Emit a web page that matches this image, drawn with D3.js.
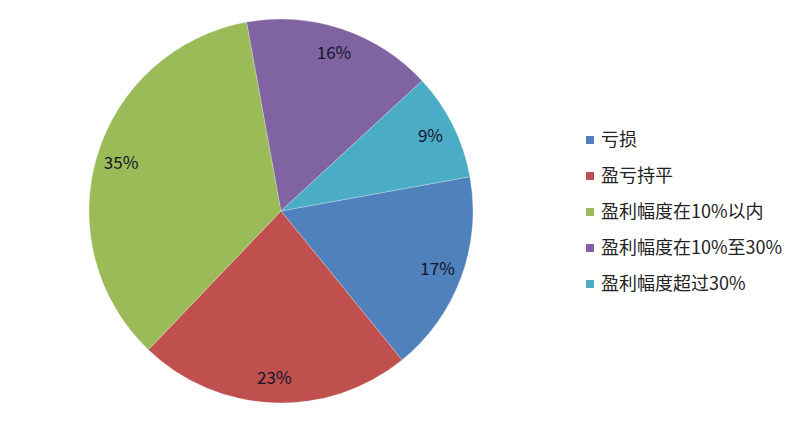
<!DOCTYPE html>
<html><head><meta charset="utf-8">
<script src="https://cdn.jsdelivr.net/npm/d3@7"></script>
<style>body{margin:0;background:#fff}svg{display:block}</style>
</head><body>
<svg id="c" width="800" height="421"></svg>
<script>
const categories = ["亏损","盈亏持平","盈利幅度在10%以内","盈利幅度在10%至30%","盈利幅度超过30%"];
const values = [17, 23, 35, 16, 9];
const labels = ["17%","23%","35%","16%","9%"];
const colors = ["#4F81BD","#C0504D","#9BBB59","#8064A2","#4BACC6"];

const svg = d3.select("#c");
const cx = 281, cy = 211, r = 192;
const startDeg = 79.7;
const pie = d3.pie().sort(null).value(d=>d)
  .startAngle(startDeg*Math.PI/180).endAngle((startDeg+360)*Math.PI/180);
const arcs = pie(values);
const arc = d3.arc().innerRadius(0).outerRadius(r);
const labelArc = d3.arc().innerRadius(167).outerRadius(167);
const g = svg.append("g").attr("transform",`translate(${cx},${cy})`);
g.selectAll("path").data(arcs).join("path")
  .attr("d",arc).attr("fill",(d,i)=>colors[i])
  .attr("stroke","#ffffff").attr("stroke-width",0.4).attr("stroke-opacity",0.6);
g.selectAll("text").data(arcs).join("text")
  .attr("transform",d=>`translate(${labelArc.centroid(d)})`)
  .attr("text-anchor","middle").attr("dy","0.35em")
  .attr("font-family","'Noto Sans CJK SC','Open Sans',sans-serif")
  .attr("font-size",17).attr("fill","#14142a")
  .text((d,i)=>labels[i]);

const y = d3.scalePoint().domain(categories).range([140,284]);
const leg = svg.append("g");
leg.selectAll("rect").data(categories).join("rect")
  .attr("x",586).attr("y",d=>y(d)-4).attr("width",8).attr("height",8)
  .attr("fill",(d,i)=>colors[i]);
leg.selectAll("text").data(categories).join("text")
  .attr("x",601).attr("y",d=>y(d)).attr("dy","0.35em")
  .attr("font-family","'Noto Sans CJK SC',sans-serif")
  .attr("font-size",18).attr("fill","#222")
  .text(d=>d);
</script>
</body></html>
